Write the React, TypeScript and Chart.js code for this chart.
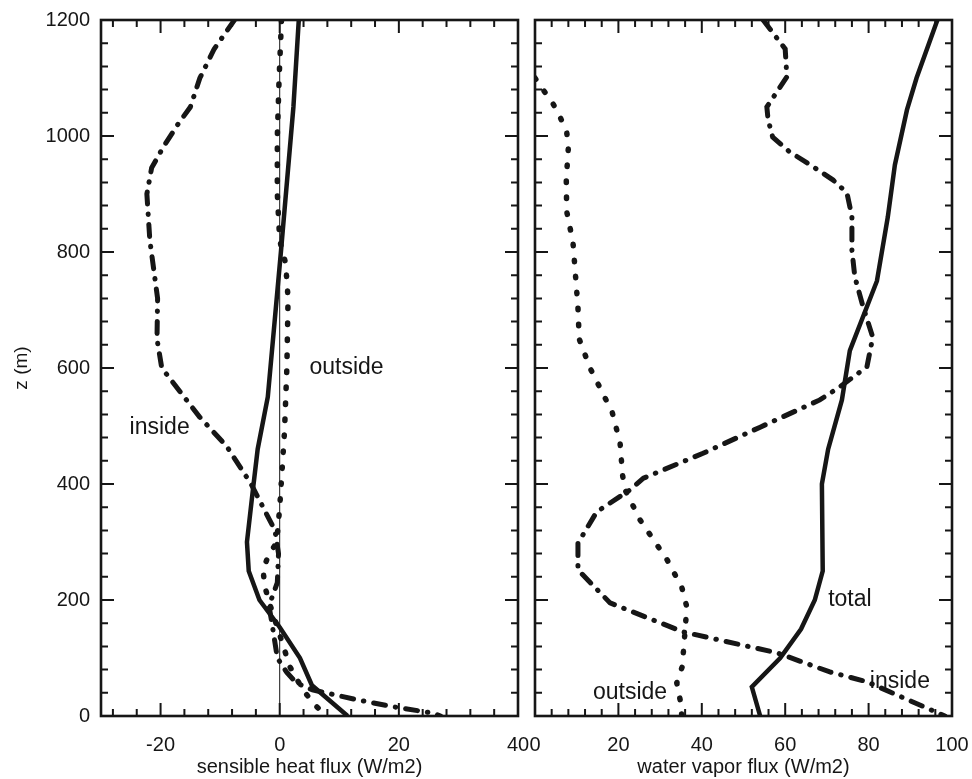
import { useEffect, useRef } from 'react';
import { Chart, registerables } from 'chart.js';

Chart.register(...registerables);

const FONT = '"Liberation Sans", Arial, Helvetica, sans-serif';
const INK = '#161616';

// Profiles as [height z (m), flux (W/m2)]
const sensibleTotal: [number, number][] = [
  [1200, 3.2], [1050, 2.3], [800, 0.2], [550, -2.0], [460, -3.7], [390, -4.5],
  [300, -5.5], [250, -5.2], [200, -3.4], [153, 0.0], [100, 3.4], [53, 5.4], [0, 11.4],
];
const sensibleInside: [number, number][] = [
  [1200, -7.6], [1150, -11.0], [1100, -13.4], [1050, -15.0], [1020, -17.1], [980, -19.6],
  [945, -21.5], [900, -22.3], [820, -21.8], [720, -20.5], [650, -20.6], [600, -19.8],
  [515, -13.4], [465, -8.9], [400, -4.8], [350, -2.3], [320, -0.8], [280, -0.2],
  [230, -0.4], [190, -1.8], [160, -1.3], [100, -0.4], [75, 1.2], [57, 2.8], [45, 5.5],
  [28, 13.0], [16, 19.0], [5, 25.7], [0, 27.0],
];
const sensibleOutside: [number, number][] = [
  [1200, 0.3], [1100, -0.1], [1000, -0.4], [900, -0.4], [820, 0.0], [780, 1.0],
  [720, 1.4], [600, 1.2], [490, 0.8], [440, 0.5], [360, 0.0], [300, -0.5], [274, -2.0],
  [252, -2.8], [223, -2.5], [194, -1.7], [140, 0.0], [85, 1.7], [45, 3.9], [19, 5.9], [0, 7.9],
];

const vaporTotal: [number, number][] = [
  [1200, 96.5], [1100, 91.5], [1045, 89.2], [950, 86.3], [860, 84.6], [750, 82.0],
  [630, 75.5], [545, 73.6], [460, 70.3], [400, 68.8], [250, 69.0], [200, 67.1],
  [150, 63.8], [100, 58.8], [50, 52.0], [0, 54.0],
];
const vaporInside: [number, number][] = [
  [1200, 54.7], [1150, 60.0], [1102, 60.4], [1050, 55.6], [1028, 55.9], [998, 57.0],
  [973, 61.0], [947, 66.7], [924, 71.5], [902, 74.8], [861, 76.0], [803, 76.0],
  [757, 76.7], [705, 78.7], [653, 81.0], [602, 79.6], [567, 73.0], [545, 68.3],
  [498, 54.0], [453, 40.3], [410, 26.0], [390, 22.8], [352, 14.8], [298, 10.3],
  [252, 10.3], [195, 18.0], [145, 35.5], [109, 58.0], [76, 70.7], [59, 79.6], [0, 98.3],
];
const vaporOutside: [number, number][] = [
  [1100, 0.0], [1080, 1.9], [1060, 4.0], [1033, 6.0], [1007, 7.6], [980, 8.0],
  [925, 7.5], [870, 7.6], [817, 9.1], [705, 10.3], [650, 10.6], [600, 13.2],
  [524, 18.5], [471, 20.4], [415, 21.0], [390, 21.6], [338, 25.2], [269, 31.7],
  [222, 35.2], [188, 36.4], [148, 36.0], [85, 35.3], [57, 34.0], [28, 34.8], [0, 35.2],
];

const zeroLine: [number, number][] = [[0, 0], [1200, 0]];

const heightTicks = [0, 200, 400, 600, 800, 1000, 1200];
const sensibleTicks = [-20, 0, 20, 40];
const vaporTicks = [0, 20, 40, 60, 80, 100];

const sensibleNotes = [
  { text: 'outside', x: 5.0, y: 600 },
  { text: 'inside', x: -25.2, y: 498 },
];
const vaporNotes = [
  { text: 'total', x: 70.3, y: 200 },
  { text: 'inside', x: 80.3, y: 59 },
  { text: 'outside', x: 13.9, y: 40 },
];

const toPoints = (rows: [number, number][]) => rows.map(([z, f]) => ({ x: f, y: z }));

const solid = (rows: [number, number][]) => ({
  data: toPoints(rows),
  showLine: true,
  borderColor: INK,
  borderWidth: 4.5,
  pointRadius: 0,
  pointHoverRadius: 0,
  tension: 0,
});
const dashDot = (rows: [number, number][]) => ({
  ...solid(rows),
  borderWidth: 5,
  borderCapStyle: 'round',
  borderDash: [12, 10, 0.5, 10],
});
const dotted = (rows: [number, number][]) => ({
  ...solid(rows),
  borderWidth: 5.5,
  borderCapStyle: 'round',
  borderDash: [1.5, 14.5],
});

// Frame with inward ticks on all four sides, plus text labels placed in data units.
const framePlugin = {
  id: 'frame',
  afterDatasetsDraw(chart: any, _args: any, opts: any) {
    const { ctx, chartArea: a, scales } = chart;
    const xs = scales.x;
    const ys = scales.y;
    ctx.save();
    ctx.strokeStyle = INK;
    ctx.lineCap = 'butt';
    ctx.lineWidth = 2;
    ctx.beginPath();
    for (let i = 0; ; i++) {
      const v = opts.xFrom + i * opts.xStep;
      if (v > xs.max + 1e-9) break;
      const px = xs.getPixelForValue(v);
      const len = Math.abs(v % opts.xMajor) < 1e-9 ? 13 : 7;
      ctx.moveTo(px, a.bottom);
      ctx.lineTo(px, a.bottom - len);
      ctx.moveTo(px, a.top);
      ctx.lineTo(px, a.top + len);
    }
    for (let i = 0; ; i++) {
      const v = opts.yFrom + i * opts.yStep;
      if (v > ys.max + 1e-9) break;
      const py = ys.getPixelForValue(v);
      const len = Math.abs(v % opts.yMajor) < 1e-9 ? 13 : 7;
      ctx.moveTo(a.left, py);
      ctx.lineTo(a.left + len, py);
      ctx.moveTo(a.right, py);
      ctx.lineTo(a.right - len, py);
    }
    ctx.stroke();
    ctx.lineWidth = 2.6;
    ctx.strokeRect(a.left, a.top, a.right - a.left, a.bottom - a.top);

    ctx.fillStyle = INK;
    ctx.font = `23px ${FONT}`;
    ctx.textAlign = 'left';
    ctx.textBaseline = 'middle';
    for (const n of opts.notes) {
      ctx.fillText(n.text, xs.getPixelForValue(n.x), ys.getPixelForValue(n.y));
    }
    ctx.restore();
  },
};

function buildConfig(p: {
  datasets: any[];
  xMin: number;
  xMax: number;
  xTicks: number[];
  xTitle: string;
  xFrom: number;
  showY: boolean;
  padLeft: number;
  padRight: number;
  notes: { text: string; x: number; y: number }[];
}) {
  return {
    type: 'scatter',
    data: { datasets: p.datasets },
    plugins: [framePlugin],
    options: {
      responsive: false,
      animation: false,
      devicePixelRatio: 1,
      events: [],
      layout: { padding: { left: p.padLeft, right: p.padRight, top: 20, bottom: 0 } },
      plugins: {
        legend: { display: false },
        tooltip: { enabled: false },
        frame: {
          xFrom: p.xFrom,
          xStep: 4,
          xMajor: 20,
          yFrom: 40,
          yStep: 40,
          yMajor: 200,
          notes: p.notes,
        },
      },
      scales: {
        x: {
          type: 'linear',
          min: p.xMin,
          max: p.xMax,
          grid: { display: false, drawTicks: false },
          border: { display: false },
          ticks: {
            color: INK,
            font: { family: FONT, size: 20 },
            padding: 17,
            maxRotation: 0,
            autoSkip: false,
            callback: (v: number) => String(v),
          },
          afterBuildTicks: (s: any) => {
            s.ticks = p.xTicks.map((v) => ({ value: v }));
          },
          afterFit: (s: any) => {
            s.height = 63;
            s.paddingLeft = 0;
            s.paddingRight = 0;
          },
          title: {
            display: true,
            text: p.xTitle,
            color: INK,
            font: { family: FONT, size: 20 },
            padding: { top: 0, bottom: 0 },
          },
        },
        y: {
          type: 'linear',
          min: 0,
          max: 1200,
          display: p.showY,
          grid: { display: false, drawTicks: false },
          border: { display: false },
          ticks: {
            color: INK,
            font: { family: FONT, size: 20 },
            padding: 11,
            autoSkip: false,
            callback: (v: number) => String(v),
          },
          afterBuildTicks: (s: any) => {
            s.ticks = heightTicks.map((v) => ({ value: v }));
          },
          afterFit: (s: any) => {
            if (p.showY) s.width = 101;
            s.paddingTop = 0;
            s.paddingBottom = 0;
          },
          title: {
            display: true,
            text: 'z (m)',
            color: INK,
            font: { family: FONT, size: 19 },
            padding: { top: 10, bottom: 0 },
          },
        },
      },
    },
  };
}

export default function App() {
  const leftRef = useRef<HTMLCanvasElement | null>(null);
  const rightRef = useRef<HTMLCanvasElement | null>(null);

  useEffect(() => {
    if (!leftRef.current || !rightRef.current) return;

    const left = new Chart(
      leftRef.current,
      buildConfig({
        datasets: [
          { ...solid(zeroLine), borderWidth: 1 },
          dashDot(sensibleInside),
          dotted(sensibleOutside),
          solid(sensibleTotal),
        ],
        xMin: -30,
        xMax: 40,
        xTicks: sensibleTicks,
        xTitle: 'sensible heat flux (W/m2)',
        xFrom: -28,
        showY: true,
        padLeft: 0,
        padRight: 12,
        notes: sensibleNotes,
      }) as any
    );

    const right = new Chart(
      rightRef.current,
      buildConfig({
        datasets: [dashDot(vaporInside), dotted(vaporOutside), solid(vaporTotal)],
        xMin: 0,
        xMax: 100,
        xTicks: vaporTicks,
        xTitle: 'water vapor flux (W/m2)',
        xFrom: 4,
        showY: false,
        padLeft: 13,
        padRight: 20,
        notes: vaporNotes,
      }) as any
    );

    return () => {
      left.destroy();
      right.destroy();
    };
  }, []);

  return (
    <div style={{ position: 'absolute', left: 0, top: 0, width: 972, height: 779, background: '#fff' }}>
      <canvas
        ref={leftRef}
        width={530}
        height={779}
        style={{ position: 'absolute', left: 0, top: 0, width: 530, height: 779 }}
      />
      <canvas
        ref={rightRef}
        width={450}
        height={779}
        style={{ position: 'absolute', left: 522, top: 0, width: 450, height: 779 }}
      />
    </div>
  );
}
